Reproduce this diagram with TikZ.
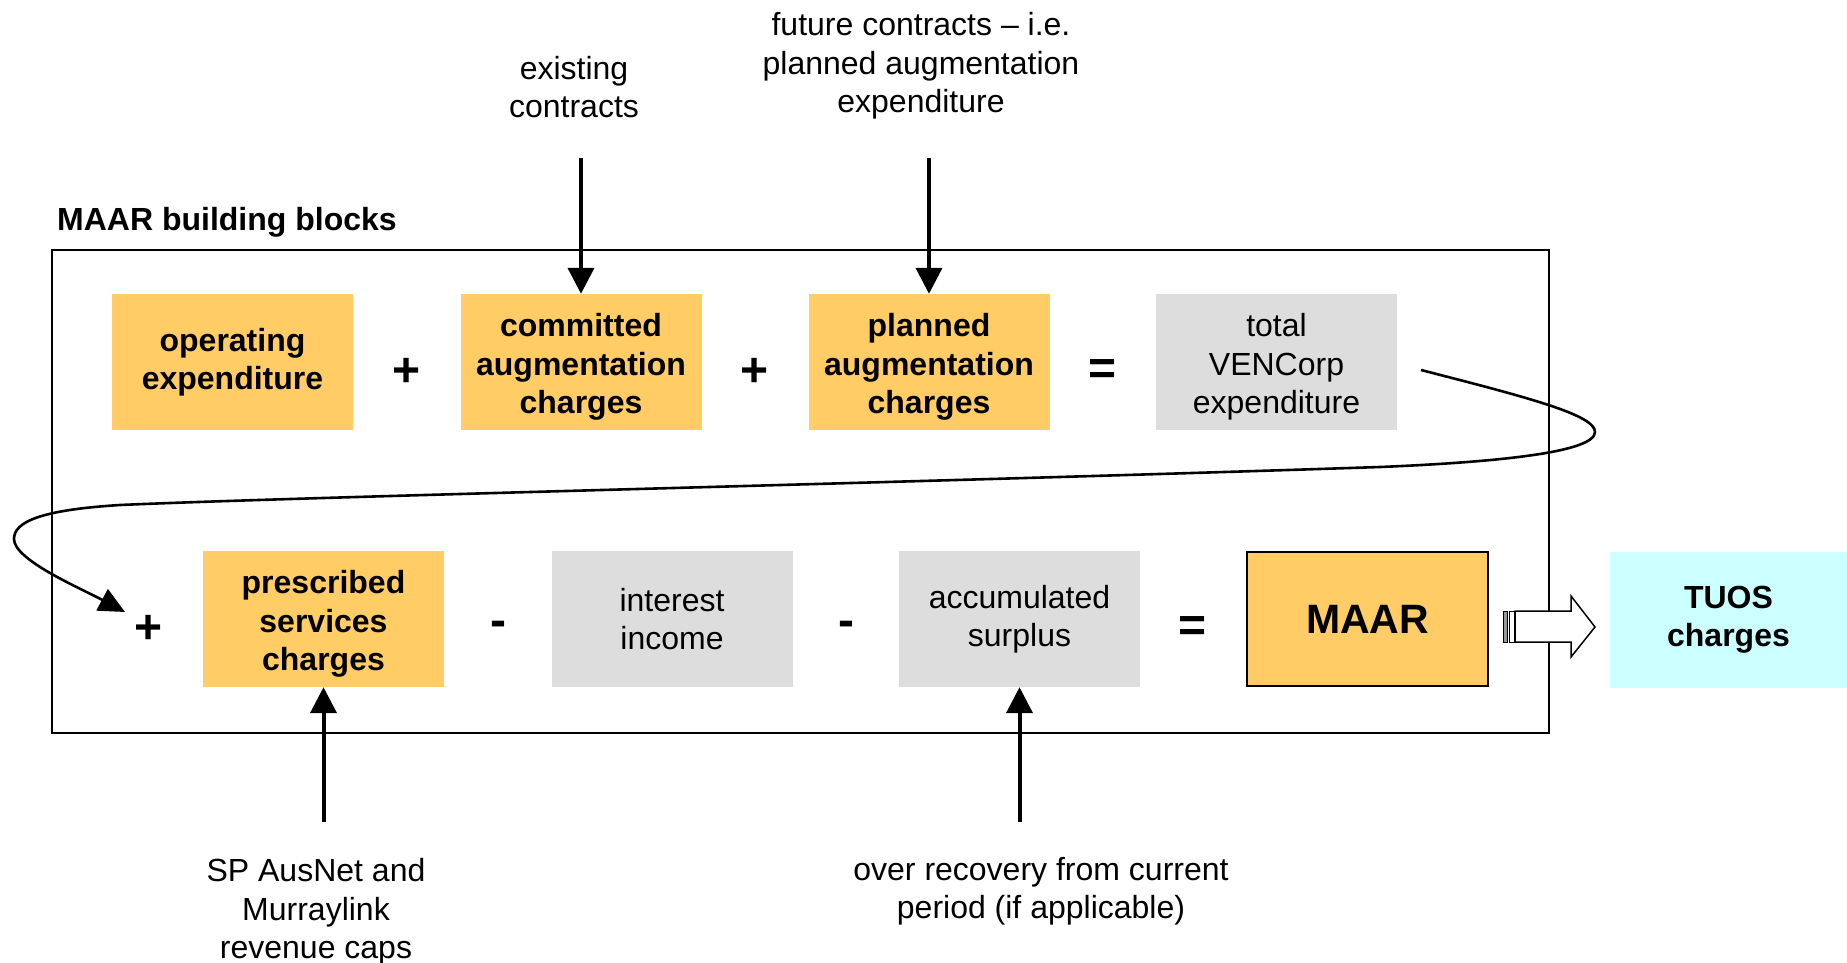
\documentclass[tikz,border=0pt]{standalone}
\usepackage{fontspec}
\setmainfont{Liberation Sans}
\usetikzlibrary{arrows.meta}

\definecolor{blockorange}{HTML}{FFCC66}
\definecolor{blockgray}{HTML}{DDDDDD}
\definecolor{blockcyan}{HTML}{CCFFFF}

% taller first line, lowers three-line texts inside their boxes
\newcommand{\topgap}{\rule{0pt}{33pt}}

\tikzset{
  base/.style={inner sep=0pt, minimum width=241pt, minimum height=136pt,
    align=center, font=\fontsize{32}{38.4}\selectfont},
  costbox/.style={base, fill=blockorange, font=\fontsize{32}{38.4}\selectfont\bfseries},
  infobox/.style={base, fill=blockgray},
  opsign/.style={inner sep=0pt, font=\fontsize{48}{48}\selectfont\bfseries},
  note/.style={inner sep=0pt, align=center, font=\fontsize{32}{38.4}\selectfont},
  feed/.style={line width=4pt, -{Triangle[length=26pt,width=26pt]}},
  loopline/.style={line width=2.6pt, -{Triangle[length=26pt,width=24pt]}},
}

\begin{document}
\begin{tikzpicture}[x=1pt, y=-1pt]
\useasboundingbox (0,0) rectangle (1847,963);

% frame of the building blocks
\draw[line width=2pt] (52,250) rectangle (1549,733);
\node[anchor=west, inner sep=0pt, font=\fontsize{32}{38.4}\selectfont\bfseries]
  (title) at (57,222) {MAAR building blocks};

% first row
\node[costbox] (opex) at (232.5,362) {operating\\expenditure};
\node[opsign] (p1) at (407,372) {+};
\node[costbox] (commit) at (581,362) {\topgap committed\\augmentation\\charges};
\node[opsign] (p2) at (755,372) {+};
\node[costbox] (plan) at (929,362) {\topgap planned\\augmentation\\charges};
\node[opsign] (eq1) at (1103,372) {=};
\node[infobox] (total) at (1276.5,362) {\topgap total\\VENCorp\\expenditure};

% second row
\node[opsign] (p3) at (149,629) {+};
\node[costbox] (presc) at (323.5,619) {\topgap prescribed\\services\\charges};
\node[opsign] (m1) at (498,629) {-};
\node[infobox] (interest) at (672,619) {interest\\income};
\node[opsign] (m2) at (846,629) {-};
\node[infobox] (surplus) at (1019.5,619) {accumulated\\surplus};
\node[opsign] (eq2) at (1193,629) {=};
\node[costbox, draw=black, line width=2.5pt, minimum width=241pt, minimum height=134pt,
  font=\fontsize{41}{48}\selectfont\bfseries] (maar) at (1367.5,619) {MAAR};
\node[costbox, fill=blockcyan, minimum width=237pt] (tuos) at (1728.5,620) {TUOS\\charges};

% inputs above and below
\node[note] (exist) at (574,87) {existing\\contracts};
\node[note] (future) at (921,66) {future contracts -- i.e.\\planned augmentation\\expenditure};
\node[note] (caps) at (316,912) {SP AusNet and\\Murraylink\\revenue caps};
\node[note] (over) at (1041,891) {over recovery from current\\period (if applicable)};

\coordinate (existEnd) at (581,158);
\coordinate (futureEnd) at (929,158);
\coordinate (capsEnd) at (323.5,822);
\coordinate (overEnd) at (1019.5,822);

\draw[feed] (existEnd) -- (commit.north);
\draw[feed] (futureEnd) -- (plan.north);
\draw[feed] (capsEnd) -- (presc.south);
\draw[feed] (overEnd) -- (surplus.south);

% carry-over from the first row to the second row
\coordinate (loopStart) at (1421,370);
\coordinate (loopEnd) at (125,612);
\draw[loopline] (loopStart)
  .. controls (1530,398) and (1595,415) .. (1595,432)
  .. controls (1595,452) and (1500,462) .. (1380,467)
  .. controls (900,483) and (300,497) .. (120,505)
  .. controls (40,510) and (14,522) .. (14,539)
  .. controls (14,560) and (80,588) .. (loopEnd);

% block arrow from MAAR to TUOS
\draw[line width=1pt, fill=gray!80] (1503,611) rectangle (1507,642);
\draw[line width=1pt, fill=white] (1509,611) rectangle (1514,642);
\draw[line width=1.5pt, fill=white]
  (1515,611) -- (1571,611) -- (1571,596) -- (1595,627) -- (1571,657)
  -- (1571,642) -- (1515,642) -- cycle;
\end{tikzpicture}
\end{document}
